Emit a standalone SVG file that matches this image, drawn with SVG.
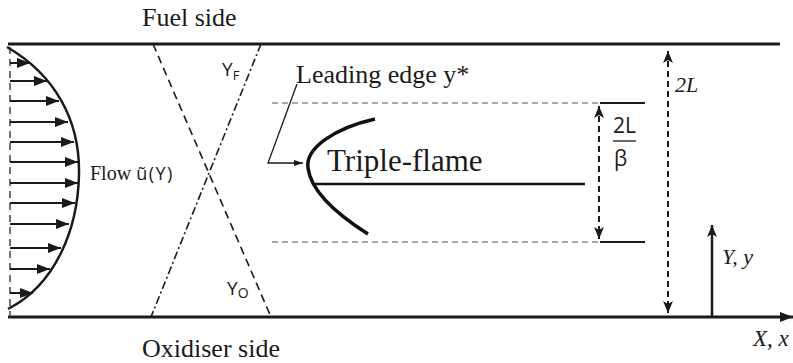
<svg xmlns="http://www.w3.org/2000/svg" width="793" height="363" viewBox="0 0 793 363">
<style>
.serif{font-family:"Liberation Serif","Times New Roman",serif;fill:#1a1a1a}
.ital{font-family:"Liberation Serif","Times New Roman",serif;font-style:italic;fill:#1a1a1a}
.sans{font-family:"Open Sans","Liberation Sans",Arial,sans-serif;fill:#1a1a1a}
.wall{stroke:#1a1a1a;stroke-width:3;fill:none}
.flow{stroke:#1a1a1a;stroke-width:2;fill:none}
.dim{stroke:#1a1a1a;stroke-width:2;stroke-dasharray:6 4;fill:none}
.guide{stroke:#555;stroke-width:1.2;stroke-dasharray:6 4;fill:none}
</style>
<defs>
<marker id="ah" markerUnits="userSpaceOnUse" viewBox="0 0 13 10" refX="13" refY="5" markerWidth="13" markerHeight="10" orient="auto"><path d="M0,0 L13,5 L0,10 z" fill="#1a1a1a"/></marker>
<marker id="dh" markerUnits="userSpaceOnUse" viewBox="0 0 12 10" refX="12" refY="5" markerWidth="12" markerHeight="10" orient="auto-start-reverse"><path d="M0,0 L12,5 L0,10 L3,5 z" fill="#1a1a1a"/></marker>
<marker id="sh" markerUnits="userSpaceOnUse" viewBox="0 0 9 6" refX="9" refY="3" markerWidth="9" markerHeight="6" orient="auto"><path d="M0,0 L9,3 L0,6 z" fill="#1a1a1a"/></marker>
</defs>

<g id="channel">
<line class="wall" x1="8" y1="44" x2="780" y2="44"/>
<line class="wall" x1="8" y1="317" x2="793" y2="317" marker-end="url(#ah)"/>
<text class="serif" x="142" y="26" font-size="26">Fuel side</text>
<text class="serif" x="142" y="357" font-size="26">Oxidiser side</text>
</g>

<g id="flow-profile">
<line x1="10" y1="47" x2="10" y2="317" stroke="#444" stroke-width="1.5" stroke-dasharray="7 5"/>
<path d="M7,47 C55,75 80,120 79,174 C78,230 55,285 8,309" stroke="#1a1a1a" stroke-width="2.5" fill="none"/>
<g class="flow">
<line x1="10" y1="63" x2="30" y2="63" marker-end="url(#ah)"/>
<line x1="10" y1="81" x2="47" y2="81" marker-end="url(#ah)"/>
<line x1="10" y1="101" x2="59" y2="101" marker-end="url(#ah)"/>
<line x1="10" y1="122" x2="68" y2="122" marker-end="url(#ah)"/>
<line x1="10" y1="142" x2="74" y2="142" marker-end="url(#ah)"/>
<line x1="10" y1="162" x2="78" y2="162" marker-end="url(#ah)"/>
<line x1="10" y1="183" x2="78" y2="183" marker-end="url(#ah)"/>
<line x1="10" y1="203" x2="75" y2="203" marker-end="url(#ah)"/>
<line x1="10" y1="224" x2="69" y2="224" marker-end="url(#ah)"/>
<line x1="10" y1="248" x2="61" y2="248" marker-end="url(#ah)"/>
<line x1="10" y1="269" x2="50" y2="269" marker-end="url(#ah)"/>
<line x1="10" y1="293" x2="33" y2="293" marker-end="url(#ah)"/>
</g>
<text x="90" y="180"><tspan class="serif" font-size="20">Flow </tspan><tspan class="sans" font-size="18" letter-spacing="1.5">ũ(Y)</tspan></text>
</g>

<g id="mass-fractions">
<line x1="153" y1="44" x2="271" y2="317" stroke="#1a1a1a" stroke-width="1.6" stroke-dasharray="8 5"/>
<line x1="261" y1="44" x2="151" y2="317" stroke="#1a1a1a" stroke-width="1.6" stroke-dasharray="8 3 2 3"/>
<text class="sans" x="222" y="76" font-size="19">Y<tspan font-size="13" dy="4">F</tspan></text>
<text class="sans" x="227" y="295" font-size="19">Y<tspan font-size="14" dy="3">O</tspan></text>
</g>

<g id="flame-zone">
<line class="guide" x1="272" y1="103" x2="600" y2="103"/>
<line class="guide" x1="272" y1="242" x2="600" y2="242"/>
<line x1="600" y1="103" x2="645" y2="103" stroke="#1a1a1a" stroke-width="2"/>
<line x1="600" y1="242" x2="645" y2="242" stroke="#1a1a1a" stroke-width="2"/>
</g>

<g id="triple-flame">
<path d="M375,119 C335,128 305,148 308,168 C311,192 338,215 368,234" stroke="#111" stroke-width="3.5" fill="none"/>
<line x1="312" y1="184" x2="585" y2="184" stroke="#111" stroke-width="2.5"/>
<text class="serif" x="327" y="171" font-size="31">Triple-flame</text>
</g>

<g id="leading-edge">
<text class="serif" x="296" y="83" font-size="26">Leading edge y*</text>
<polyline points="297,84 268,163 303,163" stroke="#1a1a1a" stroke-width="1.3" fill="none" marker-end="url(#sh)"/>
</g>

<g id="dimensions">
<line class="dim" x1="599" y1="106" x2="599" y2="239" marker-start="url(#dh)" marker-end="url(#dh)"/>
<text class="sans" x="613" y="133" font-size="21">2L</text>
<line x1="613" y1="141" x2="636" y2="141" stroke="#1a1a1a" stroke-width="1.3"/>
<text class="sans" x="614" y="166" font-size="21">β</text>
<line class="dim" x1="668" y1="51" x2="668" y2="313" marker-start="url(#dh)" marker-end="url(#dh)"/>
<text class="ital" x="675" y="92" font-size="22">2L</text>
</g>

<g id="axes">
<line x1="712" y1="317" x2="712" y2="225" stroke="#1a1a1a" stroke-width="2.5" marker-end="url(#dh)"/>
<text class="ital" x="722" y="264" font-size="22">Y, y</text>
<text class="ital" x="753" y="346" font-size="23">X, x</text>
</g>
</svg>
